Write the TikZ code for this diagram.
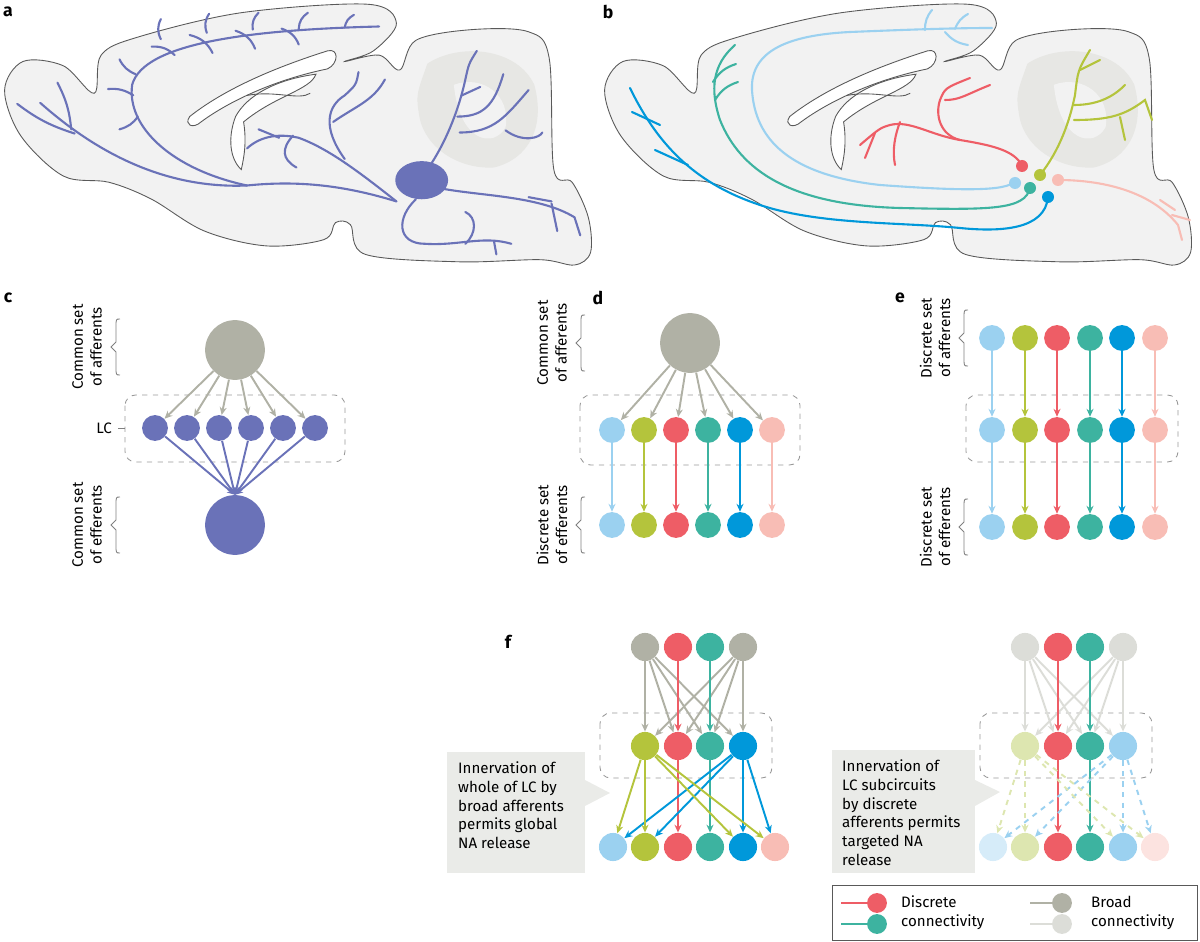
\documentclass[tikz,border=0pt]{standalone}
\usepackage{fontspec}
\setmainfont{Fira Sans}
\usetikzlibrary{arrows.meta}
\definecolor{lcblue}{HTML}{6A72B8}
\definecolor{gr}{HTML}{B0B1A5}
\definecolor{lgr}{HTML}{DCDDD8}
\definecolor{rd}{HTML}{EE5D66}
\definecolor{lm}{HTML}{B4C43C}
\definecolor{tl}{HTML}{3DB3A0}
\definecolor{bl}{HTML}{0098DA}
\definecolor{lb}{HTML}{9BD1F0}
\definecolor{pk}{HTML}{F8BDB5}
\definecolor{llm}{HTML}{DDE6B0}
\definecolor{llb}{HTML}{D6ECF9}
\definecolor{lpk}{HTML}{FCE3E0}
\definecolor{brain}{HTML}{F2F2F2}
\tikzset{
  dot/.style={circle,fill=#1,inner sep=0pt,minimum size=14.7pt},
  big/.style={circle,fill=#1,inner sep=0pt,minimum size=34pt},
  fdot/.style={circle,fill=#1,inner sep=0pt,minimum size=16pt},
  ldot/.style={circle,fill=#1,inner sep=0pt,minimum size=11.3pt},
  arr/.style={draw=#1,line width=1.1pt,-{Stealth[length=4.5pt,width=4pt]}},
  lbox/.style={draw=gray!80,dashed,rounded corners=6pt,line width=0.5pt},
  lab/.style={font=\bfseries\fontsize{10}{12}\selectfont},
  txt/.style={font=\fontsize{8.6}{10.6}\selectfont,align=left},
  nerve/.style={line width=1.2pt,line cap=round},
}
\def\brainoutline{plot[smooth cycle,tension=0.55] coordinates{(4,85) (20,58) (55,62) (82,88) (88,52) (120,35) (210,12) (320,4) (345,22) (325,48) (300,58) (330,52) (348,66) (362,38) (410,28) (460,30) (478,55) (482,160) (498,172) (512,205) (514,238) (500,250) (470,245) (400,247) (318,240) (305,212) (292,210) (282,226) (232,232) (178,218) (132,188) (95,172) (55,166) (18,128)}}
\begin{document}
\begin{tikzpicture}[x=0.02cm,y=-0.02cm]
\useasboundingbox (0,0) rectangle (1200,942);
% brains
\foreach \s/\n in {0/a,600/b}{
  \begin{scope}[xshift=\s*0.02cm,xscale=1.149,yscale=1.06]
    \draw[gray!70!black,fill=brain,line width=0.5pt] \brainoutline;
    \fill[lgr!70] (372,60) .. controls (400,40) and (450,45) .. (465,80) .. controls (475,120) and (460,150) .. (430,158) .. controls (400,160) and (370,140) .. (365,110) .. controls (362,90) .. (372,60);
    \fill[brain] (395,80) .. controls (420,70) and (445,90) .. (440,120) .. controls (430,140) and (400,135) .. (395,80);
    \draw[gray!70!black,fill=white,line width=0.5pt] (165,110) .. controls (200,80) and (250,60) .. (285,48) .. controls (295,45) and (295,60) .. (285,65) .. controls (240,75) and (200,95) .. (175,115) .. controls (168,122) and (160,118) .. (165,110);
    \draw[gray!70!black,fill=white,line width=0.5pt] (205,110) .. controls (215,90) and (240,75) .. (275,70) .. controls (270,85) and (240,90) .. (212,115) .. controls (215,135) and (212,150) .. (210,160) .. controls (200,150) and (198,130) .. (205,110);
    \draw[gray!70!black,line width=0.5pt] (215,90) .. controls (240,85) and (260,95) .. (270,88);
  \end{scope}
  \node[lab] (pl\n) at (\s+8,12) {\n};}
% panel a fibres
\begin{scope}[lcblue,nerve,xscale=1.149,yscale=1.06]
  \fill (367,170) ellipse (23 and 18);
  \draw (345,190) .. controls (300,175) and (260,170) .. (215,175) .. controls (150,178) and (90,150) .. (35,97);
  \draw (65,126) to[bend left=10] (15,98); \draw (62,122) to[bend right=10] (50,78);
  \draw (215,175) .. controls (150,160) and (110,120) .. (115,80) .. controls (125,40) and (220,28) .. (330,25);
  \foreach \x/\y/\u/\v in {140/37/140/18,180/31/182/13,220/28/225/12,260/27/268/12,300/26/308/14}
    \draw (\x,\y) to[bend left=25] (\u,\v);
  \foreach \x/\y/\u/\v in {132/44/152/52,165/33/185/50,205/29/222/46,245/27/260/42}
    \draw (\x,\y) to[bend left=25] (\u,\v);
  \draw (118,70) to[bend left=20] (104,56); \draw (116,90) to[bend right=20] (94,84); \draw (120,110) to[bend left=20] (104,122);
  \draw (345,190) .. controls (310,160) and (285,140) .. (260,130) .. controls (240,125) and (225,130) .. (215,140);
  \draw (255,128) .. controls (245,140) and (245,150) .. (258,158);
  \draw (243,130) -- (225,122);
  \draw (300,150) .. controls (280,120) and (285,100) .. (300,90) .. controls (310,80) .. (312,68);
  \draw (290,115) .. controls (310,100) and (325,95) .. (335,75);
  \draw (375,155) .. controls (390,130) and (400,100) .. (405,75) .. controls (408,60) .. (415,48);
  \draw (398,110) .. controls (420,110) and (430,100) .. (438,70);
  \draw (402,90) -- (418,82);
  \draw (400,125) .. controls (430,125) and (440,110) .. (460,85);
  \draw (440,123) .. controls (455,135) and (470,130) .. (472,125);
  \draw (385,178) .. controls (420,185) and (470,185) .. (500,205) -- (505,222);
  \draw (480,192) -- (485,218); \draw (460,186) -- (480,190);
  \draw (362,188) .. controls (345,205) and (345,230) .. (370,230) .. controls (400,232) and (420,222) .. (445,230);
  \draw (405,230) .. controls (415,220) and (415,205) .. (405,200);
  \draw (430,228) -- (432,240);
\end{scope}
% panel b fibres
\begin{scope}[nerve]
  \draw[lb] (1013,183) .. controls (1000,192) and (950,190) .. (880,185) .. controls (790,175) and (755,140) .. (752,90) .. controls (750,50) and (790,35) .. (850,32) .. controls (900,30) and (950,28) .. (992,28);
  \draw[lb] (925,30) to[bend left=20] (932,10); \draw[lb] (955,29) to[bend left=20] (968,14); \draw[lb] (945,32) to[bend right=20] (968,45);
  \draw[tl] (1030,188) .. controls (1025,210) and (990,210) .. (900,208) .. controls (790,205) and (740,170) .. (720,120) .. controls (710,90) and (712,65) .. (735,45);
  \draw[tl] (715,100) to[bend left=20] (738,82); \draw[tl] (713,82) to[bend left=20] (736,64);
  \draw[bl] (1048,197) .. controls (1045,230) and (1000,232) .. (960,228) .. controls (900,222) and (820,225) .. (760,205) .. controls (700,185) and (660,150) .. (630,88);
  \draw[bl] (688,165) -- (655,150); \draw[bl] (660,125) -- (632,112);
  \draw[rd] (1022,166) .. controls (1015,150) and (990,145) .. (960,140) .. controls (940,135) and (935,115) .. (940,100) .. controls (945,88) .. (970,78);
  \draw[rd] (960,140) .. controls (930,135) and (910,120) .. (890,125) .. controls (880,128) .. (860,145);
  \draw[rd] (945,100) .. controls (960,100) and (965,95) .. (990,85);
  \draw[rd] (900,122) .. controls (895,135) and (892,150) .. (895,165);
  \draw[rd] (875,133) -- (865,158);
  \draw[lm] (1040,175) .. controls (1060,150) and (1070,120) .. (1075,95) .. controls (1078,70) .. (1090,50);
  \draw[lm] (1074,105) .. controls (1100,105) and (1115,95) .. (1125,85);
  \draw[lm] (1074,120) .. controls (1110,120) and (1125,115) .. (1145,100) -- (1152,120);
  \draw[lm] (1120,117) -- (1125,140); \draw[lm] (1080,70) -- (1100,60);
  \draw[pk] (1058,180) .. controls (1100,180) and (1150,190) .. (1178,225) -- (1182,240);
  \draw[pk] (1160,200) -- (1175,210); \draw[pk] (1172,215) -- (1190,220);
\end{scope}
\foreach \c/\x/\y in {rd/1022/166,lm/1040/175,lb/1015/183,tl/1030/188,bl/1048/197,pk/1058/180}
  \fill[\c] (\x,\y) circle (6);
% panel c
\node[lab] (plc) at (8,298) {c};
\node[big=gr] (caff) at (235,350) {};
\node[big=lcblue] (ceff) at (235,525) {};
\draw[lbox] (125,395) rectangle (345,462);
\foreach \i/\x in {1/155,2/187,3/219,4/251,5/283,6/315}{
  \node[dot=lcblue] (c\i) at (\x,428) {};
  \draw[arr=gr] (caff) -- (c\i);
  \draw[arr=lcblue] (c\i) -- (ceff.north);}
\node[txt,anchor=east] (lcl) at (118,428) {LC};
\draw[gray] (118,428) -- (125,428);
% brackets
\foreach \n/\x/\y/\t in {ca/120/347/{Common set\\of afferents},ce/120/525/{Common set\\of efferents},da/585/343/{Common set\\of afferents},de/585/525/{Discrete set\\of efferents},ea/968/338/{Discrete set\\of afferents},ee/968/527/{Discrete set\\of efferents}}{
  \draw[gray,line width=0.5pt] (\x,\y-28) .. controls (\x-4,\y-28) .. (\x-4,\y-20) -- (\x-4,\y-5) -- (\x-9,\y) -- (\x-4,\y+5) -- (\x-4,\y+20) .. controls (\x-4,\y+28) .. (\x,\y+28);
  \node[txt,align=center,rotate=90] (b\n) at (\x-33,\y) {\t};}
% panel d
\node[lab] (pld) at (598,298) {d};
\node[big=gr] (daff) at (690,343) {};
\draw[lbox] (580,395) rectangle (800,465);
\foreach \i/\x/\c in {1/612/lb,2/644/lm,3/676/rd,4/708/tl,5/740/bl,6/772/pk}{
  \node[dot=\c] (d\i) at (\x,430) {};
  \node[dot=\c] (dd\i) at (\x,525) {};
  \draw[arr=gr] (daff) -- (d\i);
  \draw[arr=\c] (d\i) -- (dd\i);}
% panel e
\node[lab] (ple) at (900,298) {e};
\draw[lbox] (966,395) rectangle (1178,462);
\foreach \i/\x/\c in {1/992/lb,2/1025/lm,3/1057/rd,4/1090/tl,5/1122/bl,6/1155/pk}{
  \node[dot=\c] (ea\i) at (\x,338) {};
  \node[dot=\c] (e\i) at (\x,430) {};
  \node[dot=\c] (ee\i) at (\x,527) {};
  \draw[arr=\c] (ea\i) -- (e\i);
  \draw[arr=\c] (e\i) -- (ee\i);}
% panel f
\node[lab] (plf) at (508,642) {f};
\foreach \s/\g/\gc/\ga/\gb/\gd/\ge/\gf/\dsh in {0/l/gr/lm/bl/lb/lm/pk/solid,380/r/lgr/llm/lb/llb/llm/lpk/dashed}{
  \begin{scope}[xshift=\s*0.02cm]
  \draw[lbox] (600,713) rectangle (772,778);
  \node[fdot=\gc] (\g t1) at (645,647) {};
  \node[fdot=rd] (\g t2) at (678,647) {};
  \node[fdot=tl] (\g t3) at (710,647) {};
  \node[fdot=\gc] (\g t4) at (743,647) {};
  \node[fdot=\ga] (\g m1) at (645,746) {};
  \node[fdot=rd] (\g m2) at (678,746) {};
  \node[fdot=tl] (\g m3) at (710,746) {};
  \node[fdot=\gb] (\g m4) at (743,746) {};
  \foreach \i/\x/\c in {1/613/\gd,2/645/\ge,3/678/rd,4/710/tl,5/743/\gb,6/775/\gf}
    \node[fdot=\c] (\g b\i) at (\x,847) {};
  \foreach \a in {1,4}\foreach \m in {1,2,3,4}
    \draw[arr=\gc] (\g t\a) -- (\g m\m);
  \draw[arr=rd] (\g t2) -- (\g m2);
  \draw[arr=tl] (\g t3) -- (\g m3);
  \draw[arr=rd] (\g m2) -- (\g b3);
  \draw[arr=tl] (\g m3) -- (\g b4);
  \foreach \b in {1,2,5,6}{
    \draw[arr=\ga,\dsh] (\g m1) -- (\g b\b);
    \draw[arr=\gb,\dsh] (\g m4) -- (\g b\b);}
  \end{scope}}
\fill[lgr!60] (447,752) rectangle (585,873);
\fill[lgr!60] (585,780) -- (610,793) -- (585,806) -- cycle;
\node[txt,anchor=north west] (ftl) at (452,756) {Innervation of\\whole of LC by\\broad afferents\\permits global\\NA release};
\fill[lgr!60] (832,750) rectangle (975,873);
\fill[lgr!60] (975,780) -- (1000,792) -- (975,806) -- cycle;
\node[txt,anchor=north west] (ftr) at (836,754) {Innervation of\\LC subcircuits\\by discrete\\afferents permits\\targeted NA\\release};
% legend
\draw[gray!70!black,line width=0.5pt] (832,885) rectangle (1197,940);
\foreach \n/\y/\c in {1/903/rd,2/924/tl}{
  \node[ldot=\c] (lgd\n) at (877,\y) {};
  \coordinate (lgs\n) at (841,\y);
  \draw[\c,line width=1.1pt] (lgs\n) -- (lgd\n);}
\foreach \n/\y/\c in {3/903/gr,4/924/lgr}{
  \node[ldot=\c] (lgd\n) at (1062,\y) {};
  \coordinate (lgs\n) at (1030,\y);
  \draw[\c,line width=1.1pt] (lgs\n) -- (lgd\n);}
\node[txt,anchor=west] (lgt1) at (895,913) {Discrete\\connectivity};
\node[txt,anchor=west] (lgt2) at (1085,913) {Broad\\connectivity};
\end{tikzpicture}
\end{document}
